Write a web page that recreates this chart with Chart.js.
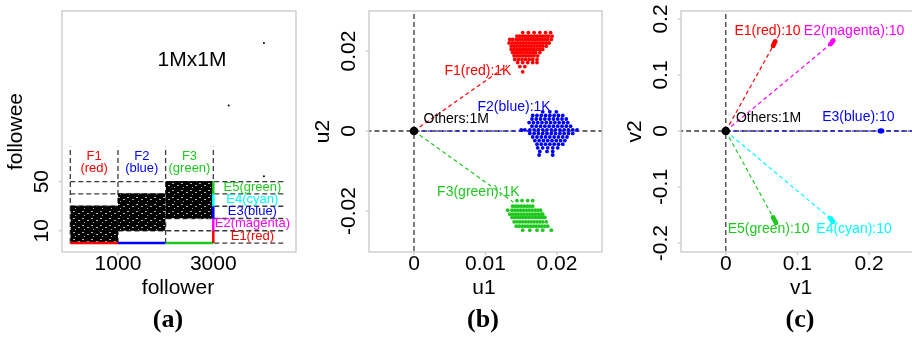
<!DOCTYPE html>
<html><head><meta charset="utf-8">
<script src="https://cdn.jsdelivr.net/npm/chart.js@4/dist/chart.umd.min.js"></script>
<style>
html,body{margin:0;padding:0;background:#fff;overflow:hidden;width:912px;height:337px;position:relative;}
.p{position:absolute;top:0;height:337px;overflow:hidden;}
canvas{display:block;}
</style></head><body>
<div class="p" style="left:0;width:304px"><canvas id="ca" width="304" height="337"></canvas></div>
<div class="p" style="left:304px;width:304px"><canvas id="cb" width="304" height="337"></canvas></div>
<div class="p" style="left:608px;width:304px"><canvas id="cc" width="312" height="337"></canvas></div>
<script>
// ================= Panel (a) data =================
const blockNames = ['F1', 'F2', 'F3'];
const blockColorNames = ['(red)', '(blue)', '(green)'];
const blockStart = [0, 1000, 2000];
const blockEnd = [1000, 2000, 3000];
const blockLow = [0, 10, 20];
const blockHigh = [30, 40, 50];
const bandNames = ['E1(red)', 'E2(magenta)', 'E3(blue)', 'E4(cyan)', 'E5(green)'];
const bandLow = [0, 10, 20, 30, 40];
const bandHigh = [10, 20, 30, 40, 50];
const levelLinesA = [0, 10, 20, 30, 40, 50];
const splitLinesA = [0, 1000, 2000, 3000];
const outlierX = [4063, 3323, 4063];
const outlierY = [163, 112, 54.5];
const xTicksA = [1000, 3000];
const yTicksA = [10, 50];

// ================= Panel (b) data =================
const f1RowU2 = [0.0246, 0.0237, 0.0229, 0.0220, 0.0212, 0.0204, 0.0196, 0.0188, 0.0179, 0.0171, 0.0161, 0.0148];
const f1RowU1 = [
  [0.0152, 0.0160, 0.0168, 0.0176, 0.0184, 0.0191],
  [0.0144, 0.0148, 0.0152, 0.0156, 0.0160, 0.0164, 0.0168, 0.0172, 0.0176, 0.0180, 0.0184, 0.0188, 0.0193],
  [0.0134, 0.0138, 0.0143, 0.0147, 0.0151, 0.0155, 0.0159, 0.0163, 0.0167, 0.0171, 0.0175, 0.0179, 0.0183, 0.0187, 0.0192],
  [0.0133, 0.0137, 0.0141, 0.0145, 0.0149, 0.0153, 0.0157, 0.0161, 0.0165, 0.0169, 0.0173, 0.0177, 0.0181, 0.0185, 0.0189],
  [0.0136, 0.0140, 0.0144, 0.0148, 0.0152, 0.0156, 0.0160, 0.0164, 0.0168, 0.0172, 0.0176, 0.0180, 0.0185],
  [0.0136, 0.0140, 0.0144, 0.0148, 0.0152, 0.0156, 0.0160, 0.0164, 0.0168, 0.0172, 0.0176, 0.0180],
  [0.0138, 0.0142, 0.0146, 0.0150, 0.0154, 0.0158, 0.0162, 0.0166, 0.0170, 0.0176],
  [0.0140, 0.0144, 0.0148, 0.0152, 0.0156, 0.0160, 0.0164, 0.0168, 0.0173],
  [0.0141, 0.0146, 0.0151, 0.0156, 0.0161, 0.0166, 0.0172],
  [0.0145, 0.0152, 0.0159, 0.0166, 0.0172],
  [0.0148, 0.0155],
  [0.0152]
];
const f2RowU2 = [0.0048, 0.0039, 0.0030, 0.0021, 0.0012, 0.0003, -0.0006, -0.0015, -0.0024, -0.0033, -0.0042, -0.0051, -0.0060];
const f2RowU1 = [
  [0.0180, 0.0190, 0.0199],
  [0.0166, 0.0172, 0.0178, 0.0184, 0.0190, 0.0196, 0.0202, 0.0208],
  [0.0165, 0.0171, 0.0177, 0.0183, 0.0189, 0.0195, 0.0201, 0.0207, 0.0213],
  [0.0161, 0.0167, 0.0173, 0.0179, 0.0185, 0.0191, 0.0197, 0.0203, 0.0209, 0.0215],
  [0.0165, 0.0171, 0.0177, 0.0183, 0.0189, 0.0195, 0.0201, 0.0207, 0.0213, 0.0219],
  [0.0150, 0.0155, 0.0162, 0.0168, 0.0174, 0.0180, 0.0186, 0.0192, 0.0198, 0.0204, 0.0210, 0.0216, 0.0222, 0.0228],
  [0.0162, 0.0168, 0.0174, 0.0180, 0.0186, 0.0192, 0.0198, 0.0204, 0.0210, 0.0216, 0.0222],
  [0.0166, 0.0172, 0.0178, 0.0184, 0.0190, 0.0196, 0.0202, 0.0208, 0.0214],
  [0.0169, 0.0175, 0.0181, 0.0187, 0.0193, 0.0199, 0.0205, 0.0211],
  [0.0172, 0.0178, 0.0184, 0.0190, 0.0196, 0.0202, 0.0208],
  [0.0173, 0.0180, 0.0187, 0.0194, 0.0201],
  [0.0176, 0.0186, 0.0194],
  [0.0175, 0.0194]
];
const f3RowU2 = [-0.0174, -0.0188, -0.0198, -0.0208, -0.0216, -0.0227, -0.0238, -0.0248];
const f3RowU1 = [
  [0.0144, 0.0151, 0.0159, 0.0166],
  [0.0138, 0.0142, 0.0146, 0.0150, 0.0154, 0.0158, 0.0162, 0.0166],
  [0.0131, 0.0137, 0.0141, 0.0145, 0.0149, 0.0153, 0.0157, 0.0161, 0.0165, 0.0169, 0.0173, 0.0177],
  [0.0134, 0.0138, 0.0142, 0.0146, 0.0150, 0.0154, 0.0158, 0.0162, 0.0166, 0.0170, 0.0174, 0.0178, 0.0180],
  [0.0137, 0.0141, 0.0145, 0.0149, 0.0153, 0.0157, 0.0161, 0.0165, 0.0169, 0.0173, 0.0177, 0.0181, 0.0183],
  [0.0140, 0.0144, 0.0148, 0.0152, 0.0156, 0.0160, 0.0164, 0.0168, 0.0172, 0.0176, 0.0180, 0.0185],
  [0.0143, 0.0147, 0.0151, 0.0155, 0.0159, 0.0163, 0.0167, 0.0171, 0.0175, 0.0179, 0.0183, 0.0187],
  [0.0152, 0.0162, 0.0172, 0.0180, 0.0192]
];
const groupNamesB = ['F1(red):1K', 'F2(blue):1K', 'F3(green):1K'];
const linkU1 = [0.0130, 0.0165, 0.0139];
const linkU2 = [0.0163, 0, -0.0178];
const othersLabel = 'Others:1M';
const xTicksB = [0, 0.01, 0.02];
const yTicksB = [-0.02, 0, 0.02];

// ================= Panel (c) data =================
const eNames = ['E1(red):10', 'E2(magenta):10', 'E3(blue):10', 'E4(cyan):10', 'E5(green):10'];
const eV1 = [[0.066, 0.067, 0.068, 0.069], [0.146, 0.148, 0.149, 0.150], [0.215, 0.216, 0.217, 0.218], [0.145, 0.147, 0.148, 0.150], [0.066, 0.067, 0.069, 0.070]];
const eV2 = [[0.152, 0.155, 0.158, 0.160], [0.155, 0.158, 0.160, 0.162], [0, 0, 0, 0], [-0.155, -0.157, -0.160, -0.162], [-0.154, -0.157, -0.161, -0.164]];
const linkV1 = [0.066, 0.146, 0.27, 0.145, 0.066];
const linkV2 = [0.152, 0.155, 0, -0.155, -0.154];
const xTicksC = [0, 0.1, 0.2];
const yTicksC = [-0.2, -0.1, 0, 0.1, 0.2];

// ================= styling =================
const RED = '#ff0000', BLUE = '#0000ff', GREEN = '#1ec81e', MAGENTA = '#ff00ff', CYAN = '#00ffff';
const SANS = '"Liberation Sans", Arial, Helvetica, sans-serif';
const TICK_FONT = '21px ' + SANS;
const TITLE_FONT = '21px ' + SANS;
const GRIDC = '#3a3a3a';

const decor = {
  id: 'decor',
  afterDatasetsDraw(chart, args, o) {
    const ctx = chart.ctx, a = chart.chartArea, xs = chart.scales.x, ys = chart.scales.y;
    ctx.save();
    ctx.textAlign = 'center'; ctx.textBaseline = 'middle';
    (o.texts || []).forEach(t => {
      ctx.font = t.font; ctx.fillStyle = t.color;
      ctx.fillText(t.text, xs.getPixelForValue(t.x), ys.getPixelForValue(t.y));
    });
    ctx.strokeStyle = '#c4c4c4'; ctx.lineWidth = 1.2;
    ctx.strokeRect(a.left, a.top, a.right - a.left, a.bottom - a.top);
    ctx.fillStyle = '#000'; ctx.font = TICK_FONT;
    o.xTicks.forEach((v, i) => {
      const x = xs.getPixelForValue(v);
      ctx.beginPath(); ctx.moveTo(x, a.bottom); ctx.lineTo(x, a.bottom + 3); ctx.stroke();
      ctx.fillText(o.xLabels[i], x, a.bottom + 12);
    });
    o.yTicks.forEach((v, i) => {
      const y = ys.getPixelForValue(v);
      ctx.beginPath(); ctx.moveTo(a.left - 3, y); ctx.lineTo(a.left, y); ctx.stroke();
      ctx.save(); ctx.translate(a.left - 20, y); ctx.rotate(-Math.PI / 2);
      ctx.fillText(o.yLabels[i], 0, 0); ctx.restore();
    });
    ctx.font = TITLE_FONT;
    ctx.fillText(o.xTitle, o.xTitleX, a.bottom + 36);
    ctx.save(); ctx.translate(a.left - 46, (a.top + a.bottom) / 2); ctx.rotate(-Math.PI / 2);
    ctx.fillText(o.yTitle, 0, 0); ctx.restore();
    ctx.font = 'bold 26px "Liberation Serif", "Times New Roman", serif';
    ctx.fillText(o.letter, o.letterX, 320);
    ctx.restore();
  }
};

const dashLine = (pts, color, width, dash) => ({data: pts, showLine: true, borderColor: color, borderWidth: width, borderDash: dash, pointRadius: 0, fill: false});
const dots = (pts, color, r) => ({data: pts, showLine: false, pointRadius: r, pointBackgroundColor: color, pointBorderColor: color, pointBorderWidth: 0});
const solid = (pts, color, width) => ({data: pts, showLine: true, borderColor: color, borderWidth: width, pointRadius: 0, fill: false, borderCapStyle: 'butt'});
const rowsToPoints = (ys, rows) => { const p = []; ys.forEach((y, i) => rows[i].forEach(x => p.push({x, y}))); return p; };

function makeChart(id, pad, xr, yr, list, decorOpts) {
  const n = list.length;
  const datasets = list.map((d, i) => Object.assign({order: n - i}, d));
  return new Chart(document.getElementById(id), {
    type: 'line',
    data: {datasets},
    options: {
      responsive: false, animation: false, devicePixelRatio: 1, events: [],
      layout: {padding: pad},
      scales: {
        x: {type: 'linear', display: false, min: xr[0], max: xr[1]},
        y: {type: 'linear', display: false, min: yr[0], max: yr[1]}
      },
      plugins: {legend: {display: false}, tooltip: {enabled: false}, decor: decorOpts},
      elements: {line: {tension: 0}}
    },
    plugins: [decor]
  });
}

// ---------- Panel (a) ----------
(function () {
  const ctxA = document.getElementById('ca').getContext('2d');
  const pc = document.createElement('canvas'); pc.width = 9; pc.height = 7;
  const g = pc.getContext('2d');
  g.fillStyle = '#000'; g.fillRect(0, 0, 9, 7);
  g.fillStyle = 'rgba(255,255,255,0.7)';
  g.fillRect(1, 1, 2, 1); g.fillRect(6, 3, 2, 1); g.fillRect(3, 5, 1, 1);
  const speckle = ctxA.createPattern(pc, 'repeat');
  const blockColors = [RED, BLUE, GREEN];
  const bandColors = [RED, MAGENTA, BLUE, CYAN, GREEN];
  const list = [];
  levelLinesA.forEach(l => list.push(dashLine([{x: 0, y: l}, {x: 4520, y: l}], GRIDC, 1.3, [5, 3])));
  splitLinesA.forEach(s => list.push(dashLine([{x: s, y: 0}, {x: s, y: 78.5}], GRIDC, 1.3, [5, 3])));
  blockNames.forEach((b, i) => list.push({
    data: [{x: blockStart[i], y: blockHigh[i]}, {x: blockEnd[i], y: blockHigh[i]}],
    showLine: true, borderColor: '#000', borderWidth: 1, pointRadius: 0,
    fill: {value: blockLow[i]}, backgroundColor: speckle
  }));
  blockNames.forEach((b, i) => list.push(solid([{x: blockStart[i], y: 0}, {x: blockEnd[i], y: 0}], blockColors[i], 2.5)));
  bandNames.forEach((b, i) => list.push(solid([{x: 3000, y: bandLow[i]}, {x: 3000, y: bandHigh[i]}], bandColors[i], 2.5)));
  list.push(dots(outlierX.map((x, i) => ({x, y: outlierY[i]})), '#000', 1));
  const texts = [{text: '1Mx1M', x: 2553, y: 149, font: '21px ' + SANS, color: '#000'}];
  blockNames.forEach((b, i) => {
    const xm = (blockStart[i] + blockEnd[i]) / 2;
    texts.push({text: b, x: xm, y: 70.4, font: '13px ' + SANS, color: blockColors[i]});
    texts.push({text: blockColorNames[i], x: xm, y: 60.6, font: '13px ' + SANS, color: blockColors[i]});
  });
  bandNames.forEach((b, i) => texts.push({text: b, x: 3820, y: (bandLow[i] + bandHigh[i]) / 2 + 0.6, font: '13px ' + SANS, color: bandColors[i]}));
  makeChart('ca', {left: 62, right: 8, top: 11, bottom: 85}, [-174, 4735], [-7.3, 189.1], list, {
    texts, xTicks: xTicksA, xLabels: xTicksA.map(String), yTicks: yTicksA, yLabels: yTicksA.map(String),
    xTitle: 'follower', xTitleX: 178, yTitle: 'followee', letter: '(a)', letterX: 168
  });
})();

// ---------- Panel (b) ----------
(function () {
  const cols = [RED, BLUE, GREEN];
  const list = [];
  list.push(dashLine([{x: 0, y: -0.04}, {x: 0, y: 0.04}], GRIDC, 1.3, [5, 3]));
  list.push(dashLine([{x: -0.01, y: 0}, {x: 0.03, y: 0}], GRIDC, 1.3, [5, 3]));
  list.push(dots(rowsToPoints(f1RowU2, f1RowU1), RED, 1.9));
  list.push(dots(rowsToPoints(f2RowU2, f2RowU1), BLUE, 1.9));
  list.push(dots(rowsToPoints(f3RowU2, f3RowU1), GREEN, 1.9));
  linkU1.forEach((u, i) => list.push(dashLine([{x: 0, y: 0}, {x: u, y: linkU2[i]}], cols[i], 1.2, [4, 3])));
  list.push(dots([{x: 0, y: 0}], '#000', 4.3));
  const f = '14px ' + SANS;
  const texts = [
    {text: groupNamesB[0], x: 0.00895, y: 0.0150, font: f, color: RED},
    {text: groupNamesB[1], x: 0.0140, y: 0.0060, font: f, color: BLUE},
    {text: othersLabel, x: 0.0059, y: 0.0030, font: f, color: '#000'},
    {text: groupNamesB[2], x: 0.0090, y: -0.01525, font: f, color: GREEN}
  ];
  makeChart('cb', {left: 65, right: 6, top: 11, bottom: 85}, [-0.00629, 0.02629], [-0.03025, 0.030], list, {
    texts, xTicks: xTicksB, xLabels: ['0', '0.01', '0.02'], yTicks: yTicksB, yLabels: ['-0.02', '0', '0.02'],
    xTitle: 'u1', xTitleX: 180, yTitle: 'u2', letter: '(b)', letterX: 179
  });
})();

// ---------- Panel (c) ----------
(function () {
  const cols = [RED, MAGENTA, BLUE, CYAN, GREEN];
  const list = [];
  list.push(dashLine([{x: 0, y: -0.3}, {x: 0, y: 0.3}], GRIDC, 1.3, [5, 3]));
  list.push(dashLine([{x: -0.1, y: 0}, {x: 0.3, y: 0}], GRIDC, 1.3, [5, 3]));
  linkV1.forEach((v, i) => list.push(dashLine([{x: 0, y: 0}, {x: v, y: linkV2[i]}], cols[i], 1.2, [4, 3])));
  eNames.forEach((n, i) => list.push(dots(eV1[i].map((x, j) => ({x, y: eV2[i][j]})), cols[i], 2.4)));
  list.push(dots([{x: 0, y: 0}], '#000', 4.3));
  const f = '14px ' + SANS;
  const texts = [
    {text: eNames[0], x: 0.0583, y: 0.178, font: f, color: RED},
    {text: eNames[1], x: 0.179, y: 0.178, font: f, color: MAGENTA},
    {text: othersLabel, x: 0.0597, y: 0.0233, font: f, color: '#000'},
    {text: eNames[2], x: 0.185, y: 0.025, font: f, color: BLUE},
    {text: eNames[4], x: 0.0597, y: -0.176, font: f, color: GREEN},
    {text: eNames[3], x: 0.179, y: -0.176, font: f, color: CYAN}
  ];
  makeChart('cc', {left: 73, right: 3, top: 11, bottom: 85}, [-0.0625, 0.265], [-0.216, 0.2143], list, {
    texts, xTicks: xTicksC, xLabels: ['0', '0.1', '0.2'], yTicks: yTicksC, yLabels: ['-0.2', '-0.1', '0', '0.1', '0.2'],
    xTitle: 'v1', xTitleX: 193, yTitle: 'v2', letter: '(c)', letterX: 192
  });
})();
</script>
</body></html>
